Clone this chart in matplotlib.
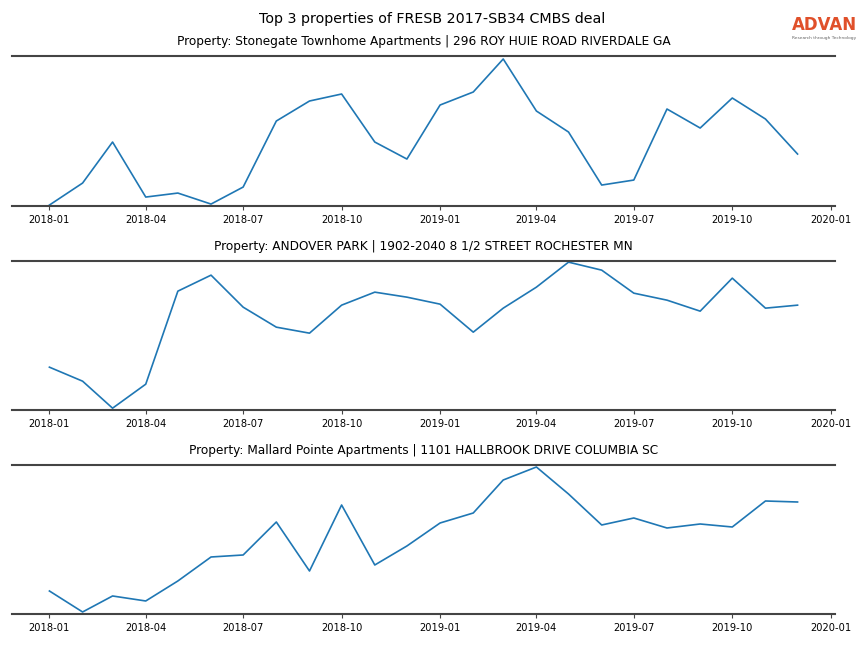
import matplotlib.pyplot as plt
import matplotlib.dates as mdates
import pandas as pd

# months 2018-01 .. 2019-12
months = pd.date_range("2018-01-01", "2019-12-01", freq="MS")

titles = [
    "Property: Stonegate Townhome Apartments | 296 ROY HUIE ROAD RIVERDALE GA",
    "Property: ANDOVER PARK | 1902-2040 8 1/2 STREET ROCHESTER MN",
    "Property: Mallard Pointe Apartments | 1101 HALLBROOK DRIVE COLUMBIA SC",
]

# estimated visit values (arbitrary units)
stonegate = [1, 23, 64, 9, 13, 2, 19, 85, 105, 112, 64, 47, 101, 114, 147, 95,
             74, 21, 26, 97, 78, 108, 87, 52]
andover = [43, 29, 2, 26, 119, 135, 103, 83, 77, 105, 118, 113, 106, 78, 102, 123,
           148, 140, 117, 110, 99, 132, 102, 105]
mallard = [23, 2, 18, 13, 33, 57, 59, 92, 43, 109, 49, 68, 91, 101, 134, 147,
           120, 89, 96, 86, 90, 87, 113, 112]

series = [stonegate, andover, mallard]
ylims = [(0, 150), (0, 149), (0, 149)]

fig = plt.figure(figsize=(8.64, 6.48), dpi=100)
fig.suptitle("Top 3 properties of FRESB 2017-SB34 CMBS deal", fontsize=10.3, y=0.982)

# axes boxes (left, bottom, width, height)
boxes = [
    (0.0139, 0.682, 0.9525, 0.2316),
    (0.0139, 0.367, 0.9525, 0.2300),
    (0.0139, 0.0525, 0.9525, 0.2299),
]

for box, vals, title, yl in zip(boxes, series, titles, ylims):
    ax = fig.add_axes(box)
    ax.plot(months, vals, color="tab:blue", linewidth=1.2)
    ax.set_title(title, fontsize=8.7, pad=8)
    ax.set_ylim(*yl)
    ax.set_yticks([])
    ax.spines["left"].set_visible(False)
    ax.spines["right"].set_visible(False)
    for s in ("top", "bottom"):
        ax.spines[s].set_color("#444444")
        ax.spines[s].set_linewidth(1.5)
    ax.xaxis.set_major_locator(mdates.MonthLocator(bymonth=[1, 4, 7, 10]))
    ax.xaxis.set_major_formatter(mdates.DateFormatter("%Y-%m"))
    ax.tick_params(axis="x", labelsize=7.1, length=3, color="#444444")

# logo
fig.text(0.9537, 0.961, "ADVAN", color="#e0502a", fontsize=12, fontweight="bold",
         ha="center", va="center")
fig.text(0.9537, 0.942, "Research through Technology", color="#666666",
         fontsize=3.2, ha="center", va="center")

fig.savefig("out.png", dpi=100)
